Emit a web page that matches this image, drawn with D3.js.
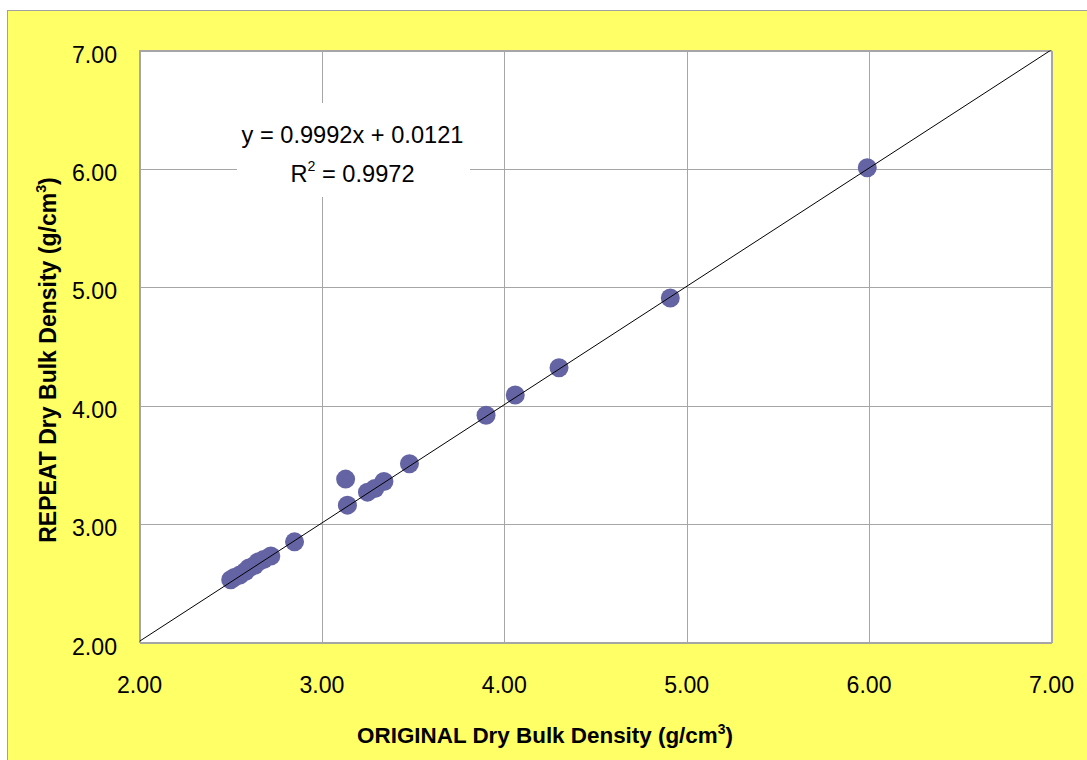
<!DOCTYPE html>
<html>
<head>
<meta charset="utf-8">
<script src="https://cdn.jsdelivr.net/npm/d3@7/dist/d3.min.js"></script>
<style>
  html, body { margin: 0; padding: 0; background: #ffffff; }
  svg { display: block; }
</style>
</head>
<body>
<svg id="chart" width="1087" height="760"></svg>
<script>
// ---- data ----
const xTicks = [2, 3, 4, 5, 6, 7];
const yTicks = [2, 3, 4, 5, 6, 7];
const original = [2.50, 2.52, 2.55, 2.58, 2.60, 2.63, 2.65, 2.68, 2.72, 2.85,
                  3.13, 3.14, 3.25, 3.29, 3.34, 3.48, 3.90, 4.06, 4.30, 4.91, 5.99];
const repeat   = [2.53, 2.55, 2.57, 2.60, 2.63, 2.65, 2.68, 2.70, 2.73, 2.85,
                  3.38, 3.16, 3.27, 3.30, 3.36, 3.51, 3.92, 4.09, 4.32, 4.91, 6.01];
const trendSlope = 0.9992;
const trendIntercept = 0.0121;
const eqText = "y = 0.9992x + 0.0121";
const r2Text = " = 0.9972";
const xTitle = "ORIGINAL Dry Bulk Density (g/cm";
const yTitle = "REPEAT Dry Bulk Density (g/cm";

// ---- layout ----
const svg = d3.select("#chart");
const plot = { left: 139.5, right: 1051.5, top: 50.5, bottom: 642.5 };
const FONT = "'Liberation Sans', Arial, sans-serif";
const gridColor = "#a6a6a6";

const x = d3.scaleLinear().domain([2, 7]).range([plot.left, plot.right]);
const y = d3.scaleLinear().domain([2, 7]).range([plot.bottom, plot.top]);

// yellow chart area
svg.append("rect")
  .attr("x", 7.5).attr("y", 10.5)
  .attr("width", 1100).attr("height", 780)
  .attr("fill", "#ffff66")
  .attr("stroke", "#a0a0a0").attr("stroke-width", 1);

// plot area
svg.append("rect")
  .attr("x", plot.left).attr("y", plot.top)
  .attr("width", plot.right - plot.left).attr("height", plot.bottom - plot.top)
  .attr("fill", "#ffffff");

svg.append("defs").append("clipPath").attr("id", "clip")
  .append("rect")
  .attr("x", plot.left).attr("y", plot.top)
  .attr("width", plot.right - plot.left).attr("height", plot.bottom - plot.top);

// gridlines via axes
svg.append("g")
  .attr("transform", `translate(0,${plot.bottom})`)
  .call(d3.axisBottom(x).tickValues(xTicks).tickSize(-(plot.bottom - plot.top)).tickFormat(""))
  .call(g => g.select(".domain").remove())
  .call(g => g.selectAll("line").attr("stroke", gridColor).attr("shape-rendering", "crispEdges"));

svg.append("g")
  .attr("transform", `translate(${plot.left},0)`)
  .call(d3.axisLeft(y).tickValues(yTicks).tickSize(-(plot.right - plot.left)).tickFormat(""))
  .call(g => g.select(".domain").remove())
  .call(g => g.selectAll("line").attr("stroke", gridColor).attr("shape-rendering", "crispEdges"));

// plot border
svg.append("rect")
  .attr("x", plot.left).attr("y", plot.top)
  .attr("width", plot.right - plot.left).attr("height", plot.bottom - plot.top)
  .attr("fill", "none").attr("stroke", gridColor).attr("shape-rendering", "crispEdges");

// helper: fit text to a target width by adjusting font size
function fitSize(text, target, base) {
  const w = text.node().getComputedTextLength();
  return base * target / w;
}

// tick labels
const probe = svg.append("text").attr("font-family", FONT).attr("font-size", 20).text("7.00");
const tickSize = fitSize(probe, 45, 20);
probe.remove();

svg.append("g").selectAll("text").data(yTicks).join("text")
  .attr("x", 117).attr("y", d => y(d) + 12)
  .attr("text-anchor", "end")
  .attr("font-family", FONT).attr("font-size", tickSize).attr("fill", "#000")
  .text(d => d3.format(".2f")(d));

svg.append("g").selectAll("text").data(xTicks).join("text")
  .attr("x", d => x(d)).attr("y", plot.bottom + 50)
  .attr("text-anchor", "middle")
  .attr("font-family", FONT).attr("font-size", tickSize).attr("fill", "#000")
  .text(d => d3.format(".2f")(d));

// trendline
const gClip = svg.append("g").attr("clip-path", "url(#clip)");
const line = d3.line().x(d => x(d)).y(d => y(trendSlope * d + trendIntercept));

// points
const pts = original.map((v, i) => ({ x: v, y: repeat[i] }));
gClip.selectAll("circle").data(pts).join("circle")
  .attr("cx", d => x(d.x)).attr("cy", d => y(d.y))
  .attr("r", 9.5)
  .attr("fill", "#6464a4");

gClip.append("path")
  .datum([2, 7])
  .attr("d", line)
  .attr("fill", "none").attr("stroke", "#000").attr("stroke-width", 1);

// equation label box
svg.append("rect")
  .attr("x", 237).attr("y", 103).attr("width", 233).attr("height", 94)
  .attr("fill", "#ffffff");

const eq = svg.append("text")
  .attr("x", 352.5).attr("y", 143)
  .attr("text-anchor", "middle")
  .attr("font-family", FONT).attr("font-size", 20).attr("fill", "#000")
  .text(eqText);
const eqSize = fitSize(eq, 222, 20);
eq.attr("font-size", eqSize);

const r2 = svg.append("text")
  .attr("x", 352.5).attr("y", 182)
  .attr("text-anchor", "middle")
  .attr("font-family", FONT).attr("font-size", eqSize).attr("fill", "#000");
r2.append("tspan").text("R");
r2.append("tspan").attr("font-size", eqSize * 0.6).attr("dy", -eqSize * 0.45).text("2");
r2.append("tspan").attr("dy", eqSize * 0.45).text(r2Text);

// axis titles
function titleText(sel, main, size) {
  sel.append("tspan").text(main);
  sel.append("tspan").attr("font-size", size * 0.62).attr("dy", -size * 0.42).text("3");
  sel.append("tspan").attr("dy", size * 0.42).text(")");
}

const xt = svg.append("text")
  .attr("x", 545).attr("y", 743)
  .attr("text-anchor", "middle")
  .attr("font-family", FONT).attr("font-weight", "bold").attr("font-size", 20).attr("fill", "#000");
titleText(xt, xTitle, 20);
const xtSize = fitSize(xt, 376, 20);
xt.selectAll("tspan").remove();
xt.attr("font-size", xtSize);
titleText(xt, xTitle, xtSize);

const yt = svg.append("text")
  .attr("transform", "translate(56,360) rotate(-90)")
  .attr("text-anchor", "middle")
  .attr("font-family", FONT).attr("font-weight", "bold").attr("font-size", 20).attr("fill", "#000");
titleText(yt, yTitle, 20);
const ytSize = fitSize(yt, 366, 20);
yt.selectAll("tspan").remove();
yt.attr("font-size", ytSize);
titleText(yt, yTitle, ytSize);
</script>
</body>
</html>
